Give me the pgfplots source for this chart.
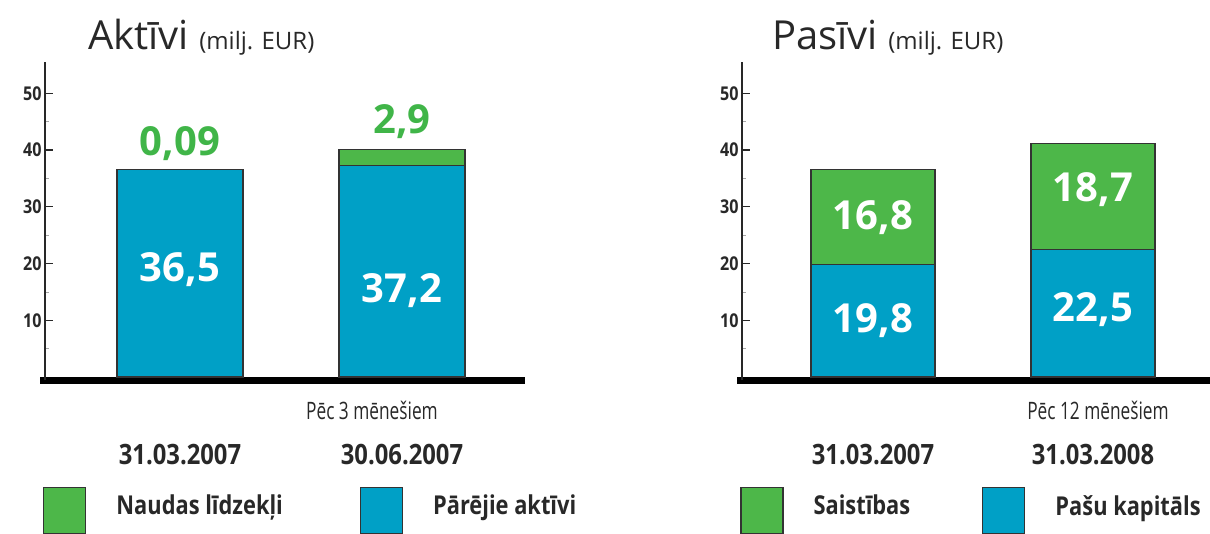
\documentclass[border=0pt]{standalone}
\usepackage{fontspec}
\setmainfont{Open Sans}
\newfontfamily\condA[FakeStretch=0.85]{Open Sans}
\newfontfamily\condB[FakeStretch=0.72]{Open Sans}
\newfontfamily\condC[FakeStretch=0.84]{Open Sans}
\usepackage{pgfplots}
\pgfplotsset{compat=1.18}
\definecolor{bblue}{RGB}{0,160,198}
\definecolor{bgreen}{RGB}{77,183,73}
\definecolor{lgreen}{RGB}{64,181,72}
\definecolor{txt}{RGB}{40,40,40}
\tikzset{val/.style={font=\bfseries\fontsize{40}{40}\selectfont}}
\pgfplotsset{panel/.style={
  scale only axis, height=318.4pt,
  ybar stacked, clip=false,
  ymin=-0.6, ymax=55.5,
  axis x line=bottom, axis y line=left,
  x axis line style={line width=7pt, black, -, shorten <=-5pt},
  y axis line style={line width=1.6pt, txt, -},
  ytick={10,20,30,40,50}, minor ytick={5,15,25,35,45},
  tick align=inside, major tick length=8pt, minor tick length=4pt,
  major tick style={line width=1.3pt, txt}, minor tick style={line width=0.6pt, black!35},
  /pgf/number format/assume math mode=true,
  yticklabel style={font=\condA\bfseries\fontsize{19}{19}\selectfont, text=txt},
  xtick={0,1}, xtick style={draw=none},
  xticklabel style={font=\condA\bfseries\fontsize{28}{28}\selectfont, text=txt, anchor=base, yshift=-84pt},
  every axis plot/.append style={draw=black!80, line width=1.2pt},
  legend image code/.code={\draw[#1, draw=black!80, line width=1.2pt] (0pt,-28pt) rectangle (42pt,18pt);},
  reverse legend,
  legend columns=2,
  legend cell align=left,
  legend style={draw=none, fill=none, inner sep=0pt, anchor=north west,
    font=\condC\bfseries\fontsize{26}{26}\selectfont, text=txt,
    /tikz/every odd column/.append style={column sep=28pt}},
}}
\begin{document}
\begin{tikzpicture}
% Left panel
\begin{axis}[panel, at={(45pt,152.6pt)}, anchor=south west,
  width=480pt, bar width=126pt,
  xmin=-0.608, xmax=1.554,
  xticklabels={31.03.2007,30.06.2007},
  legend style={at={(-0.004,-0.335)},
    /tikz/every even column/.append style={column sep=75pt}}]
\addplot[fill=bblue] coordinates {(0,36.5) (1,37.2)};
\addplot[fill=bgreen] coordinates {(0,0.09) (1,2.9)};
\legend{P\={a}r\={e}jie akt\={\i}vi, Naudas l\={\i}dzek\c{l}i}
\coordinate (A1) at (axis cs:0,18.9);
\coordinate (A2) at (axis cs:1,15.3);
\coordinate (A3) at (axis cs:0,41.2);
\coordinate (A4) at (axis cs:1,45.0);
\end{axis}
\node[white, val] at (A1) {36,5};
\node[white, val] at (A2) {37,2};
\node[lgreen, val] at (A3) {0,09};
\node[lgreen, val] at (A4) {2,9};
% Right panel
\begin{axis}[panel, at={(742pt,152.6pt)}, anchor=south west,
  width=468pt, bar width=124pt,
  xmin=-0.5955, xmax=1.532,
  xticklabels={31.03.2007,31.03.2008},
  legend style={at={(-0.004,-0.335)},
    /tikz/every even column/.append style={column sep=70pt}}]
\addplot[fill=bblue] coordinates {(0,19.8) (1,22.5)};
\addplot[fill=bgreen] coordinates {(0,16.8) (1,18.7)};
\legend{Pa\v{s}u kapit\={a}ls, Saist\={\i}bas}
\coordinate (B1) at (axis cs:0,10.0);
\coordinate (B2) at (axis cs:1,11.8);
\coordinate (B3) at (axis cs:0,28.0);
\coordinate (B4) at (axis cs:1,33.0);
\end{axis}
\node[white, val] at (B1) {19,8};
\node[white, val] at (B2) {22,5};
\node[white, val] at (B3) {16,8};
\node[white, val] at (B4) {18,7};
% Titles and notes
\node[anchor=base west, text=txt, inner sep=0pt] at (88pt,483pt) {\fontsize{40}{40}\selectfont Akt\={\i}vi \fontsize{24}{24}\selectfont(milj. EUR)};
\node[anchor=base west, text=txt, inner sep=0pt] at (772pt,483pt) {\fontsize{40}{40}\selectfont Pas\={\i}vi \fontsize{24}{24}\selectfont(milj. EUR)};
\node[anchor=base, text=txt, inner sep=0pt, font=\condB\fontsize{24}{24}\selectfont] at (372pt,113pt) {P\={e}c 3 m\={e}ne\v{s}iem};
\node[anchor=base, text=txt, inner sep=0pt, font=\condB\fontsize{24}{24}\selectfont] at (1098pt,113pt) {P\={e}c 12 m\={e}ne\v{s}iem};
\pgfresetboundingbox
\useasboundingbox (0,0) rectangle (1210pt,533pt);
\end{tikzpicture}
\end{document}
